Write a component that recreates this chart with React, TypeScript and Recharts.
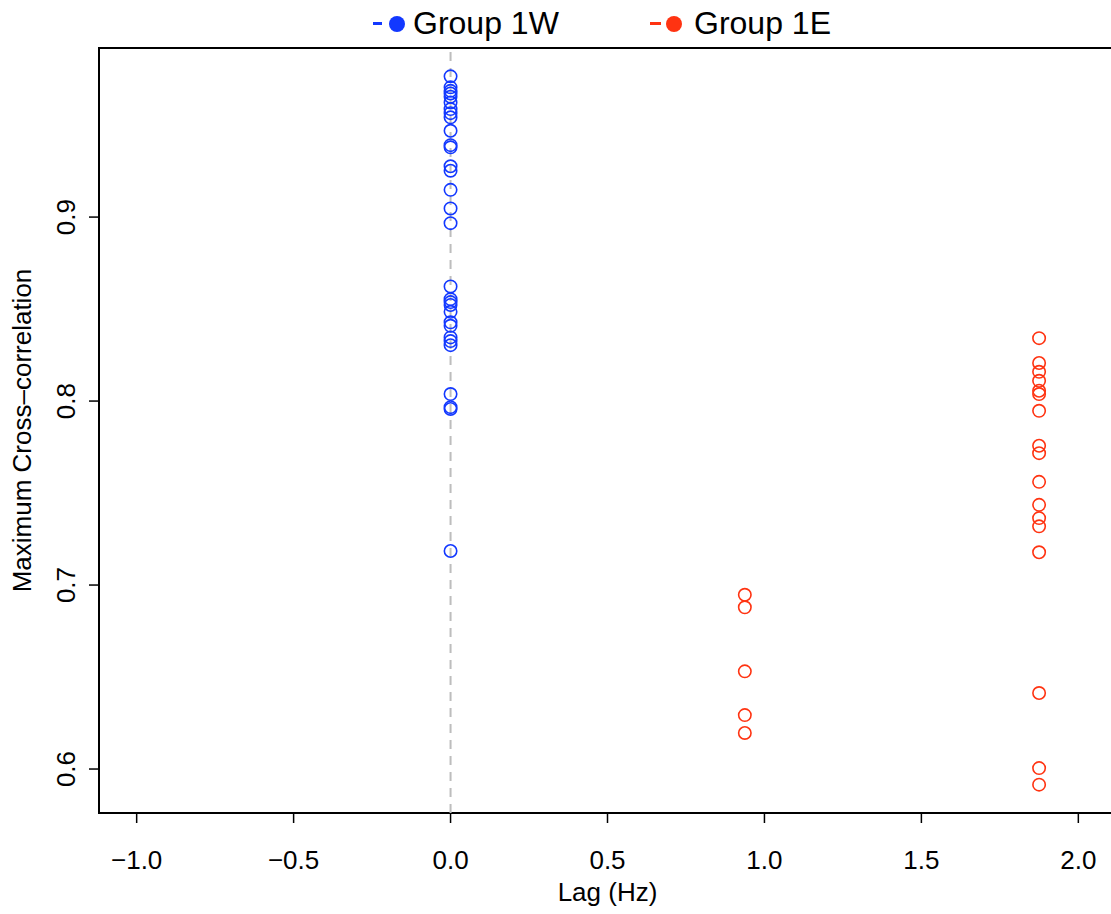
import React from "react";
import {
  ScatterChart,
  Scatter,
  XAxis,
  YAxis,
  ReferenceLine,
  ReferenceArea,
} from "recharts";

const BLUE = "#1238ff";
const RED = "#ff3311";

const seriesNames = ["Group 1W", "Group 1E"];

const groupWLag = 0;
const groupWCorr = [
  0.9765, 0.9705, 0.9686, 0.9672, 0.9654, 0.9623, 0.9587, 0.9565, 0.9542,
  0.9469, 0.9391, 0.9379, 0.9276, 0.9252, 0.9148, 0.9047, 0.8967, 0.8623,
  0.8554, 0.8538, 0.8522, 0.8485, 0.8428, 0.8409, 0.8346, 0.8326, 0.8304,
  0.8038, 0.7967, 0.7957, 0.7185,
];

const groupELagA = 0.9375;
const groupECorrA = [0.6947, 0.6879, 0.6531, 0.6293, 0.6196];

const groupELagB = 1.875;
const groupECorrB = [
  0.8342, 0.8207, 0.8159, 0.811, 0.8056, 0.8038, 0.7947, 0.7757, 0.7717,
  0.7561, 0.7436, 0.7364, 0.7319, 0.7178, 0.6413, 0.6005, 0.5915,
];

const xTicks = [-1.0, -0.5, 0.0, 0.5, 1.0, 1.5, 2.0];
const yTicks = [0.6, 0.7, 0.8, 0.9];
const xDomain = [-1.12, 2.12];
const yDomain = [0.5761, 0.9919];

const dataW = groupWCorr.map((y) => ({ x: groupWLag, y }));
const dataE = [
  ...groupECorrA.map((y) => ({ x: groupELagA, y })),
  ...groupECorrB.map((y) => ({ x: groupELagB, y })),
];

const FONT = "'Liberation Sans', Arial, Helvetica, sans-serif";

const fmt = (v: number) => {
  const s = v.toFixed(1);
  return s.startsWith("-") ? "\u2212" + s.slice(1) : s;
};

const openCircle = (color: string) => (props: any) => (
  <circle
    cx={props.cx}
    cy={props.cy}
    r={6.2}
    fill="none"
    stroke={color}
    strokeWidth={1.6}
  />
);

const XTick = (props: any) => {
  const { x, y, payload } = props;
  return (
    <text
      x={x}
      y={y}
      dy={44}
      textAnchor="middle"
      fontSize={26}
      fontFamily={FONT}
      fill="#000"
    >
      {fmt(payload.value)}
    </text>
  );
};

const YTick = (props: any) => {
  const { y, payload } = props;
  const cx = 66;
  return (
    <text
      x={cx}
      y={y}
      textAnchor="middle"
      dominantBaseline="central"
      transform={`rotate(-90, ${cx}, ${y})`}
      fontSize={26}
      fontFamily={FONT}
      fill="#000"
    >
      {fmt(payload.value)}
    </text>
  );
};

const LegendOverlay = () => {
  const items = [
    { name: seriesNames[0], color: BLUE, dash: 373, dashW: 9, dot: 389, text: 413 },
    { name: seriesNames[1], color: RED, dash: 650, dashW: 11, dot: 666, text: 694 },
  ];
  return (
    <div
      style={{
        position: "absolute",
        left: 0,
        top: 0,
        width: 1111,
        height: 48,
        pointerEvents: "none",
        fontFamily: FONT,
        fontSize: 32,
        color: "#000",
      }}
    >
      {items.map((it) => (
        <React.Fragment key={it.name}>
          <span
            style={{
              position: "absolute",
              left: it.dash,
              top: 22,
              width: it.dashW,
              height: 3,
              background: it.color,
            }}
          />
          <span
            style={{
              position: "absolute",
              left: it.dot,
              top: 16,
              width: 16,
              height: 16,
              borderRadius: 8,
              background: it.color,
            }}
          />
          <span
            style={{
              position: "absolute",
              left: it.text,
              top: 5,
              lineHeight: "36px",
              whiteSpace: "nowrap",
            }}
          >
            {it.name}
          </span>
        </React.Fragment>
      ))}
    </div>
  );
};

export default function App() {
  return (
    <div
      style={{
        position: "absolute",
        left: 0,
        top: 0,
        width: 1111,
        height: 914,
        overflow: "hidden",
        background: "#fff",
      }}
    >
      <ScatterChart
        width={1200}
        height={914}
        margin={{ top: 48, right: 84, bottom: 0, left: 0 }}
      >
        <XAxis
          type="number"
          dataKey="x"
          domain={xDomain}
          ticks={xTicks}
          allowDataOverflow
          axisLine={false}
          tickLine={{ stroke: "#000", strokeWidth: 1.5 }}
          tickSize={10}
          tick={<XTick />}
          height={101}
          label={{
            value: "Lag (Hz)",
            position: "insideBottom",
            offset: 13,
            fontSize: 26,
            fontFamily: FONT,
            fill: "#000",
          }}
        />
        <YAxis
          type="number"
          dataKey="y"
          domain={yDomain}
          ticks={yTicks}
          allowDataOverflow
          axisLine={false}
          tickLine={{ stroke: "#000", strokeWidth: 1.5 }}
          tickSize={10}
          tick={<YTick />}
          width={99}
          label={{
            value: "Maximum Cross\u2013correlation",
            angle: -90,
            position: "insideLeft",
            offset: 22,
            style: { textAnchor: "middle" },
            fontSize: 26,
            fontFamily: FONT,
            fill: "#000",
          }}
        />
        <ReferenceArea
          x1={xDomain[0]}
          x2={xDomain[1]}
          y1={yDomain[0]}
          y2={yDomain[1]}
          fill="none"
          stroke="#000"
          strokeWidth={2}
          ifOverflow="visible"
        />
        <ReferenceLine
          x={0}
          stroke="#bdbdbd"
          strokeWidth={2}
          strokeDasharray="9 7"
        />
        <Scatter
          name={seriesNames[0]}
          data={dataW}
          fill={BLUE}
          shape={openCircle(BLUE)}
          isAnimationActive={false}
        />
        <Scatter
          name={seriesNames[1]}
          data={dataE}
          fill={RED}
          shape={openCircle(RED)}
          isAnimationActive={false}
        />
      </ScatterChart>
      <LegendOverlay />
    </div>
  );
}
